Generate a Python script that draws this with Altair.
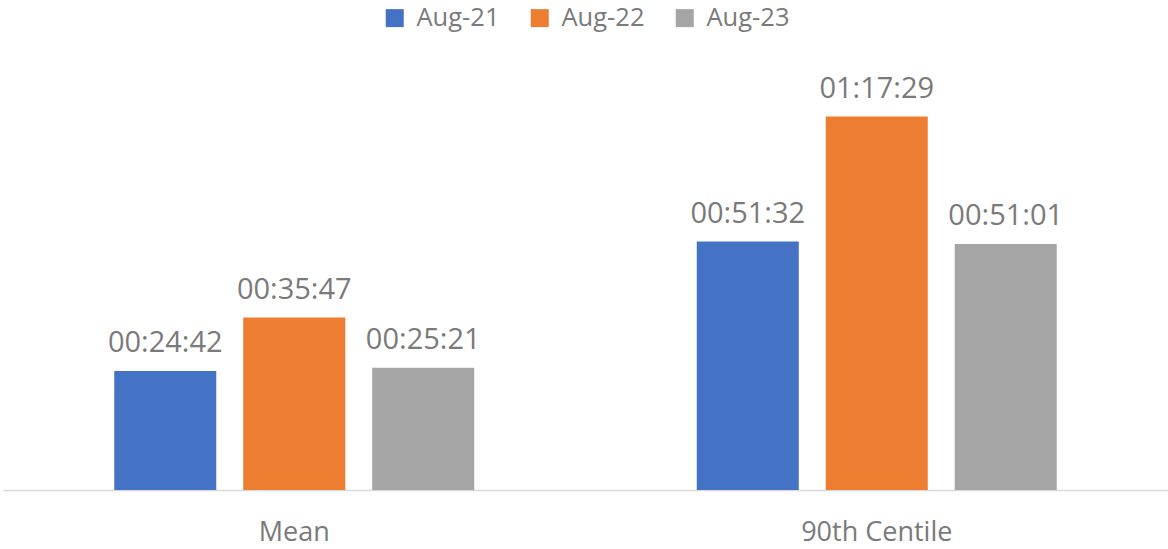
import altair as alt
import pandas as pd

categories = ["Mean", "90th Centile"]
series = ["Aug-21", "Aug-22", "Aug-23"]
times = {
    "Aug-21": ["00:24:42", "00:51:32"],
    "Aug-22": ["00:35:47", "01:17:29"],
    "Aug-23": ["00:25:21", "00:51:01"],
}
colors = ["#4472C4", "#ED7D31", "#A5A5A5"]


def to_sec(t):
    h, m, s = (int(p) for p in t.split(":"))
    return h * 3600 + m * 60 + s


rows = []
for s in series:
    for c, t in zip(categories, times[s]):
        rows.append({"category": c, "series": s, "label": t, "seconds": to_sec(t)})
df = pd.DataFrame(rows)

FONT = "Open Sans"
TXT = "#7a7a7a"

x_enc = alt.X(
    "category:N",
    sort=categories,
    scale=alt.Scale(paddingInner=0.382, paddingOuter=0.191),
    axis=alt.Axis(
        title=None,
        labelAngle=0,
        ticks=False,
        domainColor="#d9d9d9",
        domainWidth=1.5,
        labelFont=FONT,
        labelFontSize=27,
        labelColor=TXT,
        labelPadding=29,
        labelBaseline="top",
    ),
)
xo_enc = alt.XOffset(
    "series:N", sort=series, scale=alt.Scale(paddingInner=0.209, paddingOuter=0)
)
y_enc = alt.Y(
    "seconds:Q", scale=alt.Scale(domain=[0, 6000], nice=False, zero=True), axis=None
)

bars = alt.Chart(df).mark_bar().encode(
    x=x_enc,
    xOffset=xo_enc,
    y=y_enc,
    color=alt.Color(
        "series:N",
        sort=series,
        scale=alt.Scale(domain=series, range=colors),
        legend=alt.Legend(
            title=None,
            orient="none",
            direction="horizontal",
            legendX=379,
            legendY=-3,
            symbolType="square",
            symbolSize=324,
            symbolStrokeWidth=0,
            symbolOpacity=1,
            labelFont=FONT,
            labelFontSize=25.5,
            labelColor=TXT,
            labelOffset=9,
            columnPadding=27,
            labelLimit=300,
        ),
    ),
)

labels = alt.Chart(df).mark_text(
    baseline="alphabetic", dy=-19, font=FONT, fontSize=29, color=TXT
).encode(x=x_enc, xOffset=xo_enc, y=y_enc, text="label:N")

chart = (
    alt.layer(bars, labels)
    .properties(
        width=1165,
        height=482,
        autosize=alt.AutoSizeParams(type="none"),
        padding={"left": 3, "top": 8, "right": 0, "bottom": 59},
    )
    .configure_view(stroke=None)
)

chart.save("out.html", embed_options={"renderer": "svg", "actions": False})
